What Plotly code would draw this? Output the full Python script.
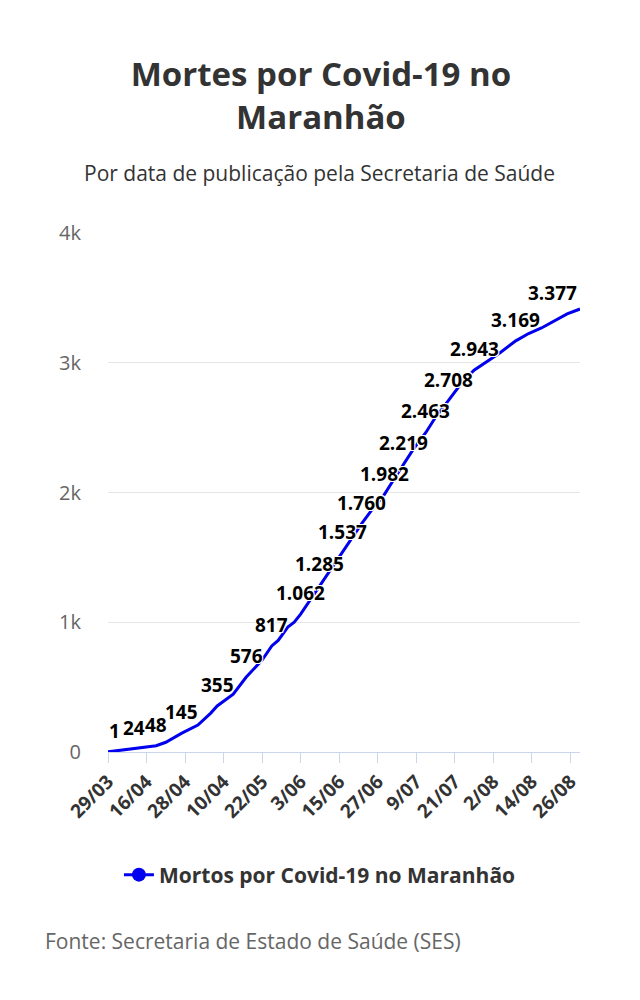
import plotly.graph_objects as go

# Mortes por Covid-19 no Maranhão - acumulado por data de publicação

# posição (índice da categoria/dia) e total acumulado
day_idx = [0, 8, 15, 18, 23, 28, 32, 34, 39, 43, 48, 51, 53, 56, 58, 60,
           66, 69, 73, 76, 79, 82, 86, 89, 92, 95, 99, 102, 106, 110, 114,
           118, 122, 127, 131, 135, 139, 143, 147]
deaths = [1, 24, 48, 75, 145, 208, 300, 355, 445, 576, 709, 817, 860, 963,
          1000, 1062, 1285, 1387, 1537, 1650, 1760, 1860, 1982, 2100, 2219,
          2330, 2463, 2580, 2708, 2840, 2943, 3010, 3075, 3169, 3225, 3268,
          3320, 3377, 3414]

# pontos que trazem rótulo no original
labeled = [1, 24, 48, 145, 355, 576, 817, 1062, 1285, 1537, 1760, 1982,
           2219, 2463, 2708, 2943, 3169, 3377]

tick_idx = [0, 12, 24, 36, 48, 60, 72, 84, 96, 108, 120, 132, 144]
tick_labels = ["29/03", "16/04", "28/04", "10/04", "22/05", "3/06", "15/06",
               "27/06", "9/07", "21/07", "2/08", "14/08", "26/08"]

y_ticks = [0, 1000, 2000, 3000, 4000]
y_labels = ["0", "1k", "2k", "3k", "4k"]

BLUE = "#0000ee"
FONT = "Open Sans"
outline = "-1px -1px 0 #fff, 1px -1px 0 #fff, -1px 1px 0 #fff, 1px 1px 0 #fff"
CENTER = 0.449  # centro da página em coordenadas do papel

fig = go.Figure()
fig.add_trace(go.Scatter(
    x=day_idx, y=deaths, mode="lines",
    line=dict(color=BLUE, width=3),
    showlegend=False, hoverinfo="skip"
))
# só para a legenda (linha com marcador)
fig.add_trace(go.Scatter(
    x=[None], y=[None], mode="lines+markers",
    name="Mortos por Covid-19 no Maranhão",
    line=dict(color=BLUE, width=3),
    marker=dict(color=BLUE, size=14)
))

for x, v in zip(day_idx, deaths):
    if v not in labeled:
        continue
    txt = f"{v:,}".replace(",", ".")
    # rótulos das pontas ficam dentro da área do gráfico
    if v == labeled[0]:
        anchor, shift = "left", -1
    elif v == labeled[-1]:
        anchor, shift = "right", 12
    else:
        anchor, shift = "center", 0
    fig.add_annotation(
        x=x, y=v, text=txt, showarrow=False,
        xanchor=anchor, yanchor="middle", xshift=shift, yshift=21,
        font=dict(family=FONT, size=19, color="#000", weight="bold",
                  shadow=outline)
    )

fig.add_annotation(
    text="Por data de publicação pela Secretaria de Saúde",
    xref="paper", yref="paper", x=CENTER, y=1.1156, xanchor="center",
    yanchor="middle", showarrow=False,
    font=dict(family=FONT, size=21, color="#333333")
)
fig.add_annotation(
    text="Fonte: Secretaria de Estado de Saúde (SES)",
    xref="paper", yref="paper", x=-0.138, y=-0.364, xanchor="left",
    yanchor="middle", showarrow=False,
    font=dict(family=FONT, size=21, color="#666666")
)

fig.update_layout(
    width=640, height=1000,
    margin=dict(l=100, r=68, t=225, b=256),
    paper_bgcolor="white", plot_bgcolor="white",
    title=dict(
        text="Mortes por Covid-19 no<br>Maranhão",
        x=0.489, xanchor="center", y=0.922, yref="container", yanchor="top",
        font=dict(family=FONT, size=33, color="#333333", weight="bold")
    ),
    legend=dict(
        orientation="h", x=CENTER, xanchor="center", y=-0.237,
        yanchor="middle",
        font=dict(family=FONT, size=21, color="#333333", weight="bold")
    ),
    xaxis=dict(
        range=[0, 147], tickvals=tick_idx, ticktext=tick_labels,
        tickangle=-45, showgrid=False, zeroline=False,
        showline=True, linecolor="#ccd6eb", linewidth=1,
        ticks="outside", ticklen=10, tickcolor="#ccd6eb",
        tickfont=dict(family=FONT, size=19, color="#333333", weight="bold")
    ),
    yaxis=dict(
        range=[0, 4000], tickvals=y_ticks, ticktext=y_labels,
        showgrid=True, gridcolor="#e6e6e6", zeroline=False,
        ticks="", ticklabelstandoff=26,
        tickfont=dict(family=FONT, size=20, color="#666666")
    ),
    hovermode=False
)

fig.write_html("out.html")
